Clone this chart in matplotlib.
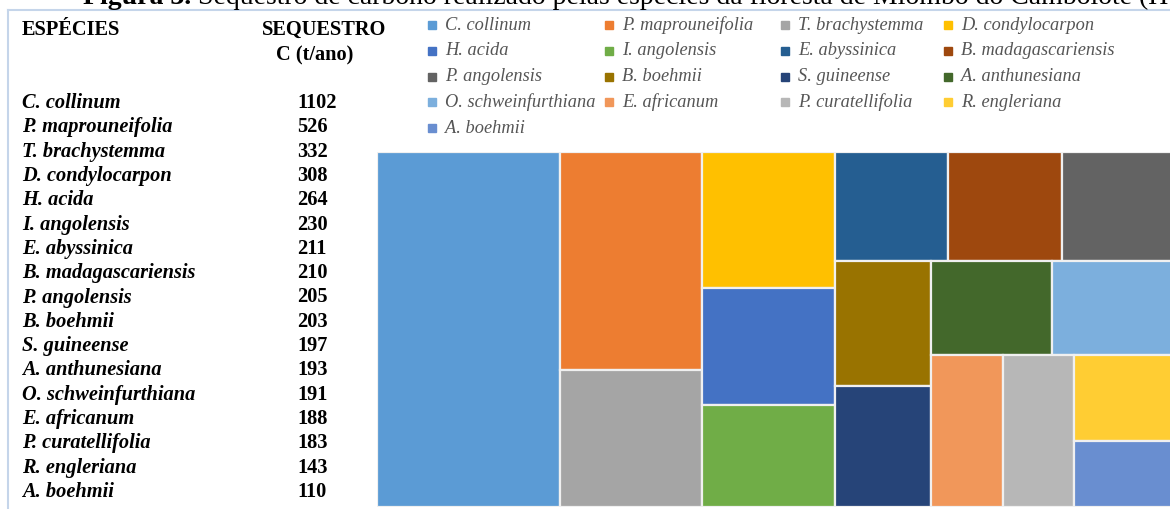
import matplotlib
matplotlib.use("Agg")
import matplotlib.pyplot as plt
from matplotlib.patches import Rectangle
from matplotlib.lines import Line2D

# carbon sequestration per species (t/ano)
species = ["C. collinum", "P. maprouneifolia", "T. brachystemma", "D. condylocarpon",
           "H. acida", "I. angolensis", "E. abyssinica", "B. madagascariensis",
           "P. angolensis", "B. boehmii", "S. guineense", "A. anthunesiana",
           "O. schweinfurthiana", "E. africanum", "P. curatellifolia", "R. engleriana",
           "A. boehmii"]
sequestro = [1102, 526, 332, 308, 264, 230, 211, 210, 205, 203, 197, 193, 191, 188, 183, 143, 110]
colors = ["#5B9BD5", "#ED7D31", "#A5A5A5", "#FFC000", "#4472C4", "#70AD47", "#255E91",
          "#9E480E", "#636363", "#997300", "#264478", "#43682B", "#7CAFDD", "#F1975A",
          "#B7B7B7", "#FFCD33", "#698ED0"]

cap_bold = "Figura 3."
cap_rest = " Sequestro de carbono realizado pelas espécies da floresta de Miombo do Cambolote (Huambo)"

W, H = 795.0, 355.0   # treemap box in pixels, so aspect checks match the screen


def dev(a, r0=1.12):
    # how far a tile (height/width) is from the preferred, slightly tall shape
    return max(a / r0, r0 / a)


def strip_tiles(areas, x, y, w, h):
    tot = sum(areas)
    out = []
    if w >= h:
        t = tot / h
        yy = y
        for a in areas:
            out.append((x, yy, t, a / t))
            yy += a / t
    else:
        t = tot / w
        xx = x
        for a in areas:
            out.append((xx, y, a / t, t))
            xx += a / t
    return out


def worst(areas, x, y, w, h):
    return max(dev(th / tw) for (_, _, tw, th) in strip_tiles(areas, x, y, w, h))


def squarify(values, x, y, w, h):
    total = float(sum(values))
    areas = [v / total * w * h for v in values]
    rects = []
    i = 0
    while i < len(areas):
        row = [areas[i]]
        j = i + 1
        while j < len(areas) and worst(row + [areas[j]], x, y, w, h) < worst(row, x, y, w, h):
            row.append(areas[j])
            j += 1
        rects += strip_tiles(row, x, y, w, h)
        s = sum(row)
        if w >= h:
            x += s / h
            w -= s / h
        else:
            y += s / w
            h -= s / w
        i = j
    return rects


fig = plt.figure(figsize=(11.7, 5.09), dpi=100)
FW, FH = 1170.0, 509.0

def fx(px):
    return px / FW

def fy(py):
    return 1 - py / FH

serif = ["Liberation Serif", "DejaVu Serif"]

# caption, cut off by the top edge
t1 = fig.text(fx(83), fy(4), cap_bold, fontsize=20, family=serif, weight="bold", va="baseline")
r = fig.canvas.get_renderer()
bb = t1.get_window_extent(r)
fig.text(bb.x1 / FW, fy(4), cap_rest, fontsize=20, family=serif, va="baseline")

# light blue frame
fig.add_artist(Line2D([fx(8), 1.0], [fy(10), fy(10)], color="#c5d5ea", lw=1.5))
fig.add_artist(Line2D([fx(8), fx(8)], [fy(10), 0.0], color="#c5d5ea", lw=1.5))

# table on the left
fs = 14.7
fig.text(fx(22), fy(30), "ESPÉCIES", fontsize=fs, family=serif, weight="bold", va="center")
fig.text(fx(324), fy(30), "SEQUESTRO", fontsize=fs, family=serif, weight="bold", va="center", ha="center")
fig.text(fx(315), fy(55), "C (t/ano)", fontsize=fs, family=serif, weight="bold", va="center", ha="center")
row_h = (492 - 103) / (len(species) - 1)
for k, (sp, v) in enumerate(zip(species, sequestro)):
    yy = fy(103 + k * row_h)
    fig.text(fx(22), yy, sp, fontsize=fs, family=serif, weight="bold", style="italic", va="center")
    fig.text(fx(297), yy, str(v), fontsize=fs, family=serif, weight="bold", va="center")

# treemap
ax = fig.add_axes([fx(377), 1 - 507 / FH, W / FW, H / FH])
ax.set_xlim(0, W)
ax.set_ylim(H, 0)
ax.axis("off")
for (rx, ry, rw, rh), c in zip(squarify(sequestro, 0, 0, W, H), colors):
    ax.add_patch(Rectangle((rx, ry), rw, rh, facecolor=c, edgecolor="#f0f0f0", lw=1.6))

# legend, filled row by row like Excel, uneven column starts
leg_x = [432, 609, 785, 948]
for k, sp in enumerate(species):
    px = leg_x[k % 4]
    py = 25 + (k // 4) * 25.8
    fig.add_artist(Line2D([fx(px)], [fy(py)], ls="", marker="s", ms=5.5, color=colors[k]))
    fig.text(fx(px + 13), fy(py), sp, fontsize=13.2, family=serif, style="italic",
             color="#555555", va="center")

fig.savefig("out.png", dpi=100)
